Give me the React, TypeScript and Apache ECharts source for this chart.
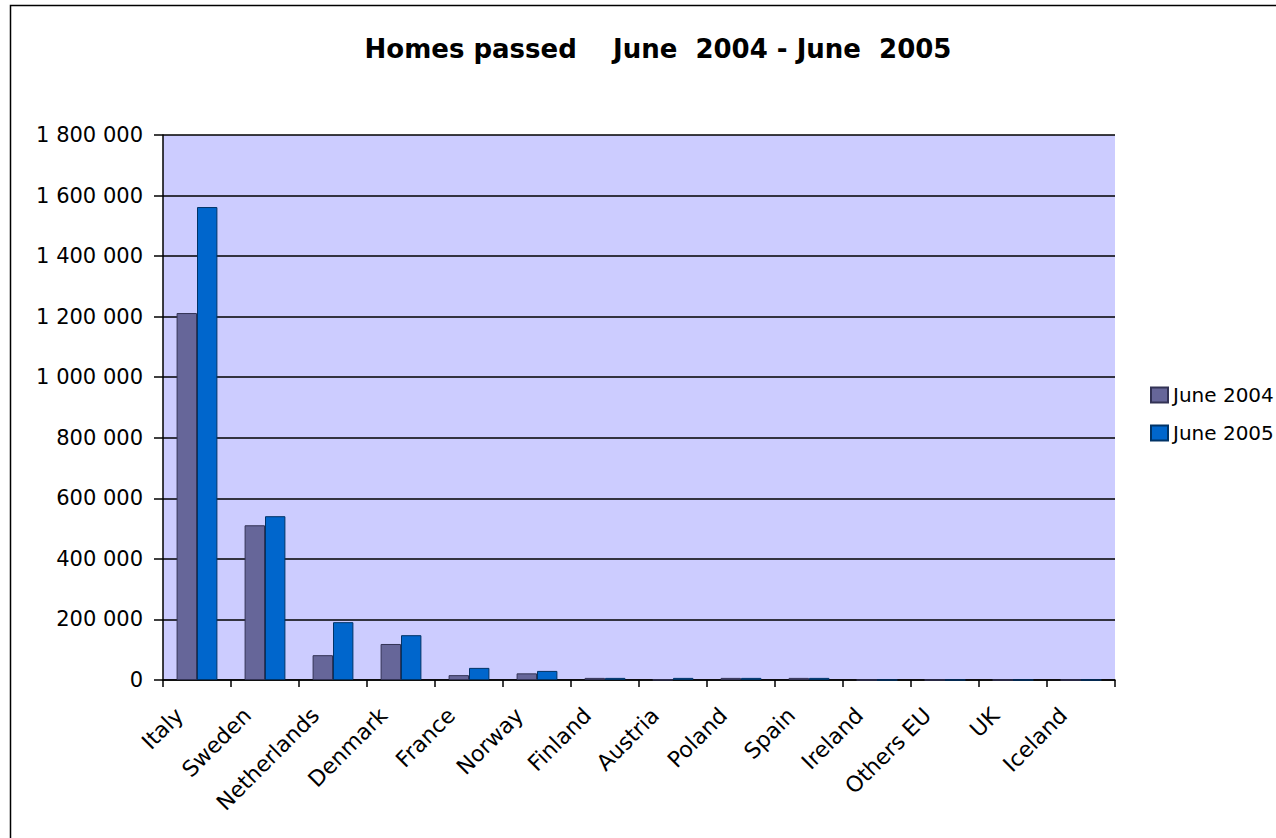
import React, { useEffect, useRef } from "react";
import * as echarts from "echarts";

const categories = ["Italy", "Sweden", "Netherlands", "Denmark", "France", "Norway", "Finland", "Austria", "Poland", "Spain", "Ireland", "Others EU", "UK", "Iceland"];
const june2004 = [1212000, 511000, 82000, 119000, 16000, 22000, 7000, 1000, 7000, 7000, 0, 0, 0, 0];
const june2005 = [1562000, 541000, 191000, 148000, 40000, 30000, 7000, 7000, 7000, 7000, 0, 0, 0, 0];
const seriesNames = ["June 2004", "June 2005"];
const titleText = "Homes passed    June  2004 - June  2005";

const fmt = (v: number) => String(v).replace(/\B(?=(\d{3})+(?!\d))/g, " ");

export default function App() {
  const ref = useRef<HTMLDivElement>(null);
  useEffect(() => {
    if (!ref.current) return;
    const chart = echarts.init(ref.current, null, { renderer: "svg" });
    const font = "DejaVu Sans, sans-serif";
    chart.setOption({
      animation: false,
      backgroundColor: "#ffffff",
      title: {
        text: titleText,
        left: 653,
        top: 31,
        textAlign: "center",
        textStyle: { fontFamily: font, fontSize: 26, fontWeight: "bold", color: "#000" },
      },
      legend: {
        orient: "vertical",
        left: 1145,
        top: 380,
        itemWidth: 17,
        itemHeight: 15,
        itemGap: 18,
        icon: "rect",
        textStyle: { fontFamily: font, fontSize: 20, color: "#000" },
        data: seriesNames,
      },
      graphic: [
        {
          type: "rect",
          shape: { x: 10.5, y: 5.5, width: 1300, height: 900 },
          style: { fill: "none", stroke: "#000", lineWidth: 1.5 },
          silent: true,
          z: 100,
        },
      ],
      grid: { left: 163, top: 135, width: 952, height: 545, show: true, backgroundColor: "#CCCCFF", borderWidth: 0 },
      xAxis: {
        type: "category",
        data: categories,
        axisLine: { lineStyle: { color: "#000", width: 1.5 } },
        axisTick: { show: true, length: 7, lineStyle: { color: "#000", width: 1.5 } },
        axisLabel: { rotate: 45, fontFamily: font, fontSize: 22, color: "#000", margin: 14, interval: 0, padding: [0, 25, 0, 0] },
      },
      yAxis: {
        type: "value",
        min: 0,
        max: 1800000,
        interval: 200000,
        axisLine: { show: true, lineStyle: { color: "#000", width: 1.5 } },
        axisTick: { show: true, length: 9, lineStyle: { color: "#000", width: 1.5 } },
        splitLine: { show: true, lineStyle: { color: "#000", width: 1.5 } },
        axisLabel: { fontFamily: font, fontSize: 21, color: "#000", margin: 20, formatter: (v: number) => fmt(v) },
      },
      series: [
        {
          name: seriesNames[0],
          type: "bar",
          data: june2004,
          barGap: "0%",
          barCategoryGap: "40%",
          itemStyle: { color: "#666699", borderColor: "#333355", borderWidth: 1 },
        },
        {
          name: seriesNames[1],
          type: "bar",
          data: june2005,
          barGap: "0%",
          barCategoryGap: "40%",
          itemStyle: { color: "#0066CC", borderColor: "#003366", borderWidth: 1 },
        },
      ],
    });
    return () => chart.dispose();
  }, []);
  return <div ref={ref} style={{ position: "fixed", left: 0, top: 0, width: 1276, height: 838 }} />;
}
